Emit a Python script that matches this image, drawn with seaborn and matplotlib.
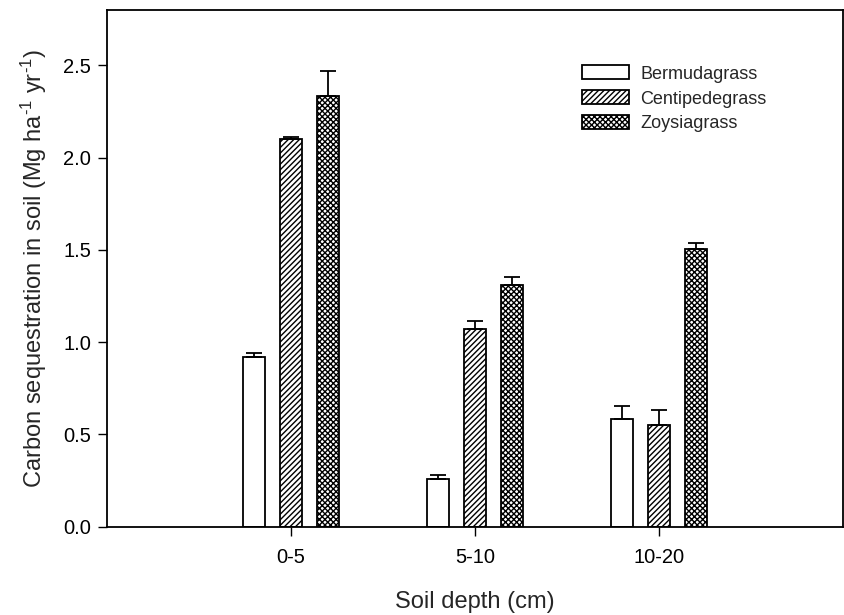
import matplotlib
matplotlib.use("Agg")
import matplotlib.pyplot as plt
import seaborn as sns
import pandas as pd
import numpy as np

depths = ["0-5", "5-10", "10-20"]
grasses = ["Bermudagrass", "Centipedegrass", "Zoysiagrass"]
bermuda_vals = [0.92, 0.26, 0.585]
bermuda_se = [0.02, 0.02, 0.07]
centipede_vals = [2.10, 1.072, 0.552]
centipede_se = [0.01, 0.04, 0.082]
zoysia_vals = [2.334, 1.312, 1.505]
zoysia_se = [0.133, 0.04, 0.03]
y_ticks = [0.0, 0.5, 1.0, 1.5, 2.0, 2.5]

sns.set_style("ticks")
plt.rcParams["font.family"] = ["Liberation Sans", "DejaVu Sans"]
plt.rcParams["mathtext.fontset"] = "custom"
plt.rcParams["mathtext.rm"] = "Liberation Sans"
plt.rcParams["mathtext.it"] = "Liberation Sans:italic"
plt.rcParams["hatch.linewidth"] = 1.0

rows = []
for g, vals, ses in [(grasses[0], bermuda_vals, bermuda_se),
                     (grasses[1], centipede_vals, centipede_se),
                     (grasses[2], zoysia_vals, zoysia_se)]:
    for d, v, s in zip(depths, vals, ses):
        rows.append({"depth": d, "grass": g, "value": v, "se": s})
df = pd.DataFrame(rows)

fig = plt.figure(figsize=(8.44, 6.15), dpi=100)
ax = fig.add_axes([107/844, (615-526.7)/615, (843-107)/844, (526.7-10)/615])

sns.barplot(data=df, x="depth", y="value", hue="grass", order=depths,
            hue_order=grasses, palette=["white"]*3, edgecolor="black",
            linewidth=1.3, width=0.6, gap=0.4, errorbar=None, legend=False, ax=ax)

hatches = ["", "//////", "xxxxxx"]
for cont, h, g in zip(ax.containers, hatches, grasses):
    cont.set_label(g)
    for p in cont.patches:
        p.set_hatch(h)
        p.set_facecolor("white")
        p.set_edgecolor("black")

# error bars
for cont, g in zip(ax.containers, grasses):
    sub = df[df.grass == g].set_index("depth").loc[depths]
    xs = [p.get_x() + p.get_width()/2 for p in cont.patches]
    hs = [p.get_height() for p in cont.patches]
    ax.errorbar(xs, hs, yerr=[np.zeros(len(xs)), sub["se"].values], fmt="none",
                ecolor="black", elinewidth=1.3, capsize=6, capthick=1.3, zorder=3)

ax.set_xlim(-1, 3)
ax.set_ylim(0, 2.8)
ax.set_yticks(y_ticks)
ax.set_yticklabels([f"{t:.1f}" for t in y_ticks])
for s in ax.spines.values():
    s.set_visible(True)
    s.set_linewidth(1.3)
    s.set_color("black")
ax.tick_params(direction="out", length=6.5, width=1.0, labelsize=14.5, colors="black")
ax.tick_params(axis="x", pad=9)
ax.tick_params(axis="y", pad=5)

ax.set_xlabel("Soil depth (cm)", fontsize=17, labelpad=17)
ax.set_ylabel(r"Carbon sequestration in soil (Mg ha$^{\text{-}1}$ yr$^{\text{-}1}$)",
              fontsize=17, labelpad=10)

leg = ax.legend(handles=ax.containers, labels=grasses, frameon=False,
                loc="upper left", bbox_to_anchor=(0.645, 0.893), borderpad=0,
                fontsize=13, handlelength=2.6, handleheight=0.83,
                handletextpad=0.65, labelspacing=0.42, borderaxespad=0)

fig.savefig("out.png", dpi=100)
